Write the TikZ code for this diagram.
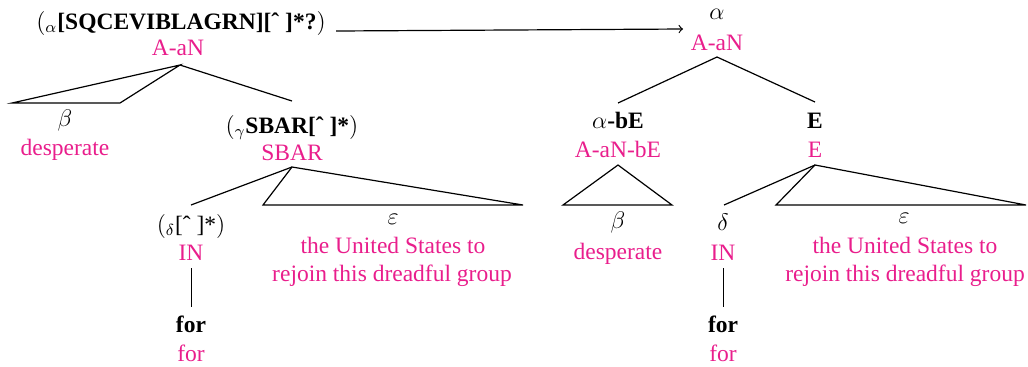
\documentclass[tikz,border=0pt]{standalone}
\usepackage{fontspec}
\setmainfont{LiberationSerif}[Extension=.ttf,UprightFont=*-Regular,BoldFont=*-Bold,ItalicFont=*-Italic,BoldItalicFont=*-BoldItalic]
\definecolor{pinkc}{RGB}{233,30,140}
\newcommand{\circm}{\char"02C6}
\begin{document}
\begin{tikzpicture}[x=0.5pt,y=-0.5pt,
  every node/.style={inner sep=0pt,anchor=base,font=\rmfamily\fontsize{11.75}{14}\selectfont},
  pk/.style={text=pinkc},
  edge/.style={line width=0.6pt,line join=miter}]
\useasboundingbox (0,0) rectangle (1028,366);
% ---------------- left tree ----------------
\node (lroot) at (181,29) {$(_\alpha$\textbf{[SQCEVIBLAGRN][\circm\ ]*?}$)$};
\node[pk] (lA) at (178,55) {A-aN};
\coordinate (lapex) at (180,65);
\coordinate (ltriL) at (12,103);
\coordinate (ltriR) at (120,103);
\coordinate (lgamTop) at (292,101);
\node (lbeta) at (65,126) {$\beta$};
\node[pk] (ldesp) at (65,155) {desperate};
\node (lgam) at (292,133) {$(_\gamma$\textbf{SBAR[\circm\ ]*}$)$};
\node[pk] (lsbar) at (292,160) {SBAR};
\coordinate (sapex) at (292,167);
\coordinate (sdelTop) at (191,205);
\coordinate (striL) at (263,205);
\coordinate (striR) at (523,205);
\node (ldel) at (191,232) {$(_\delta$[\circm\ ]*$)$};
\node[pk] (lIN) at (191,260) {IN};
\coordinate (lvt) at (191.5,268);
\coordinate (lvb) at (191.5,307);
\node (lforb) at (191,332) {\textbf{for}};
\node[pk] (lfor) at (191,361) {for};
\node (leps) at (393,224) {$\varepsilon$};
\node[pk] (ltexta) at (393,253) {the United States to};
\node[pk] (ltextb) at (392,281) {rejoin this dreadful group};
\draw[edge] (lapex) -- (ltriL) -- (ltriR) -- cycle;
\draw[edge] (lapex) -- (lgamTop);
\draw[edge] (sapex) -- (sdelTop);
\draw[edge] (sapex) -- (striL) -- (striR) -- cycle;
\draw[edge] (lvt) -- (lvb);
% ---------------- right tree ----------------
\node (ralpha) at (717,19) {$\alpha$};
\node[pk] (rA) at (717,50) {A-aN};
\coordinate (rapex) at (717,57);
\coordinate (rabTop) at (618,103);
\coordinate (rETop) at (815,102);
\node (rab) at (618,128) {$\alpha$\textbf{-bE}};
\node[pk] (rabp) at (618,157) {A-aN-bE};
\node (rE) at (815,128) {\textbf{E}};
\node[pk] (rEp) at (815,157) {E};
\coordinate (bapex) at (618,165);
\coordinate (btriL) at (563,205);
\coordinate (btriR) at (672,205);
\node (rbeta) at (618,228) {$\beta$};
\node[pk] (rdesp) at (618,259) {desperate};
\coordinate (eapex) at (815,165);
\coordinate (edelTop) at (724,205);
\coordinate (etriL) at (776,205);
\coordinate (etriR) at (1026,205);
\node (rdel) at (723,230) {$\delta$};
\node[pk] (rIN) at (723,260) {IN};
\coordinate (rvt) at (723.5,268);
\coordinate (rvb) at (723.5,307);
\node (rforb) at (723,332) {\textbf{for}};
\node[pk] (rfor) at (723,361) {for};
\node (reps) at (904,223) {$\varepsilon$};
\node[pk] (rtexta) at (905,253) {the United States to};
\node[pk] (rtextb) at (905,281) {rejoin this dreadful group};
\draw[edge] (rapex) -- (rabTop);
\draw[edge] (rapex) -- (rETop);
\draw[edge] (bapex) -- (btriL) -- (btriR) -- cycle;
\draw[edge] (eapex) -- (edelTop);
\draw[edge] (eapex) -- (etriL) -- (etriR) -- cycle;
\draw[edge] (rvt) -- (rvb);
% ---------------- arrow ----------------
\coordinate (arrEnd) at (683,29);
\draw[edge,->] ([xshift=5pt,yshift=-1pt]lroot.base east) -- (arrEnd);
\end{tikzpicture}
\end{document}
